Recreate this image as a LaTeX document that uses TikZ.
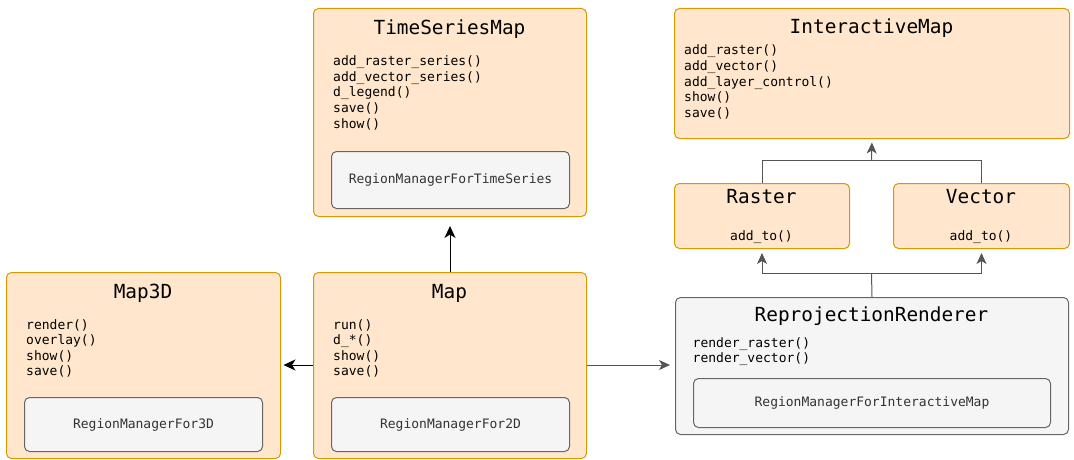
\documentclass[tikz,border=0pt]{standalone}
\usepackage{fontspec}
\setmonofont{DejaVu Sans Mono}
\usetikzlibrary{arrows.meta}
\definecolor{ofill}{HTML}{FFE6CC}
\definecolor{ostroke}{HTML}{D79B00}
\definecolor{gfill}{HTML}{F5F5F5}
\definecolor{gstroke}{HTML}{666666}
\definecolor{conn}{HTML}{555555}
\definecolor{itext}{HTML}{333333}
\tikzset{
  obox/.style={draw=ostroke, fill=ofill, line width=1pt, rounded corners=5pt, inner sep=0pt, anchor=north west},
  gbox/.style={draw=gstroke, fill=gfill, line width=1pt, rounded corners=5pt, inner sep=0pt, anchor=north west, font=\ttfamily\fontsize{13}{15}\selectfont, text=itext},
  ttl/.style={anchor=base, inner sep=0pt, font=\ttfamily\fontsize{19.4}{22}\selectfont},
  meth/.style={anchor=base west, inner sep=0pt, font=\ttfamily\fontsize{13}{15}\selectfont},
  garrow/.style={draw=conn, line width=1pt, -{Stealth[length=11pt,width=10pt,inset=3pt]}},
  gline/.style={draw=conn, line width=1pt},
  barrow/.style={draw=black, line width=1pt, -{Stealth[length=12pt,width=11pt,inset=3.5pt]}},
}
\begin{document}
\begin{tikzpicture}[x=1pt,y=-1pt]
\useasboundingbox (0,0) rectangle (1074,460);
% TimeSeriesMap
\node[obox, minimum width=273pt, minimum height=208pt] (ts) at (313,8) {};
\node[ttl] (tst) at (449.5,35) {TimeSeriesMap};
\foreach \t [count=\i] in {add\_raster\_series(),add\_vector\_series(),d\_legend(),save(),show()}
  \node[meth] (tsm\i) at (333,{65.7+15.6*(\i-1)}) {\t};
\node[gbox, minimum width=238pt, minimum height=57pt] (tsi) at (331,151) {};
\node[text=itext, font=\ttfamily\fontsize{13}{15}\selectfont] (tsit) at (tsi.center) {RegionManagerForTimeSeries};
% InteractiveMap
\node[obox, minimum width=395pt, minimum height=130pt] (im) at (674,8) {};
\node[ttl] (imt) at (871.5,33.3) {InteractiveMap};
\foreach \t [count=\i] in {add\_raster(),add\_vector(),add\_layer\_control(),show(),save()}
  \node[meth] (imm\i) at (684,{55+15.6*(\i-1)}) {\t};
% Raster
\node[obox, minimum width=175pt, minimum height=65pt] (ras) at (674,183) {};
\node[ttl] (rast) at (761.5,203.3) {Raster};
\node[meth, anchor=base] (rasm) at (761.5,240) {add\_to()};
% Vector
\node[obox, minimum width=176pt, minimum height=65pt] (vec) at (893,183) {};
\node[ttl] (vect) at (981,203.3) {Vector};
\node[meth, anchor=base] (vecm) at (981,240) {add\_to()};
% ReprojectionRenderer
\node[gbox, minimum width=393pt, minimum height=137pt] (rr) at (675,297) {};
\node[ttl] (rrt) at (871.5,321) {ReprojectionRenderer};
\foreach \t [count=\i] in {render\_raster(),render\_vector()}
  \node[meth] (rrm\i) at (692.5,{347+15.6*(\i-1)}) {\t};
\node[gbox, minimum width=357pt, minimum height=49pt] (rri) at (693,378) {};
\node[text=itext, font=\ttfamily\fontsize{13}{15}\selectfont] (rrit) at (rri.center) {RegionManagerForInteractiveMap};
% Map3D
\node[obox, minimum width=274pt, minimum height=186pt] (m3) at (6,272) {};
\node[ttl] (m3t) at (143,298) {Map3D};
\foreach \t [count=\i] in {render(),overlay(),show(),save()}
  \node[meth] (m3m\i) at (26,{329+15.6*(\i-1)}) {\t};
\node[gbox, minimum width=238pt, minimum height=54pt] (m3i) at (24,397) {};
\node[text=itext, font=\ttfamily\fontsize{13}{15}\selectfont] (m3it) at (m3i.center) {RegionManagerFor3D};
% Map
\node[obox, minimum width=273pt, minimum height=186pt] (map) at (313,272) {};
\node[ttl] (mapt) at (449.5,298) {Map};
\foreach \t [count=\i] in {run(),d\_*(),show(),save()}
  \node[meth] (mapm\i) at (333,{329+15.6*(\i-1)}) {\t};
\node[gbox, minimum width=238pt, minimum height=54pt] (mapi) at (331,397) {};
\node[text=itext, font=\ttfamily\fontsize{13}{15}\selectfont] (mapit) at (mapi.center) {RegionManagerFor2D};
% connectors
\coordinate (j1) at (871.5,160.7);
\coordinate (j2) at (871.5,273.3);
\draw[gline] (ras.north) |- (j1) -| (vec.north);
\draw[garrow, shorten >=3.5pt] (j1) -- (im.south);
\draw[gline] (rr.north) -- (j2);
\draw[garrow, shorten >=4pt] (j2) -| (ras.south);
\draw[garrow, shorten >=4pt] (j2) -| (vec.south);
\draw[barrow, shorten >=9pt] (map.north -| ts.south) -- (ts.south);
\draw[barrow, shorten >=2.5pt] (map.west |- 0,365) -- (m3.east |- 0,365);
\draw[garrow, shorten >=5pt] (map.east |- 0,365) -- (rr.west |- 0,365);
\end{tikzpicture}
\end{document}
